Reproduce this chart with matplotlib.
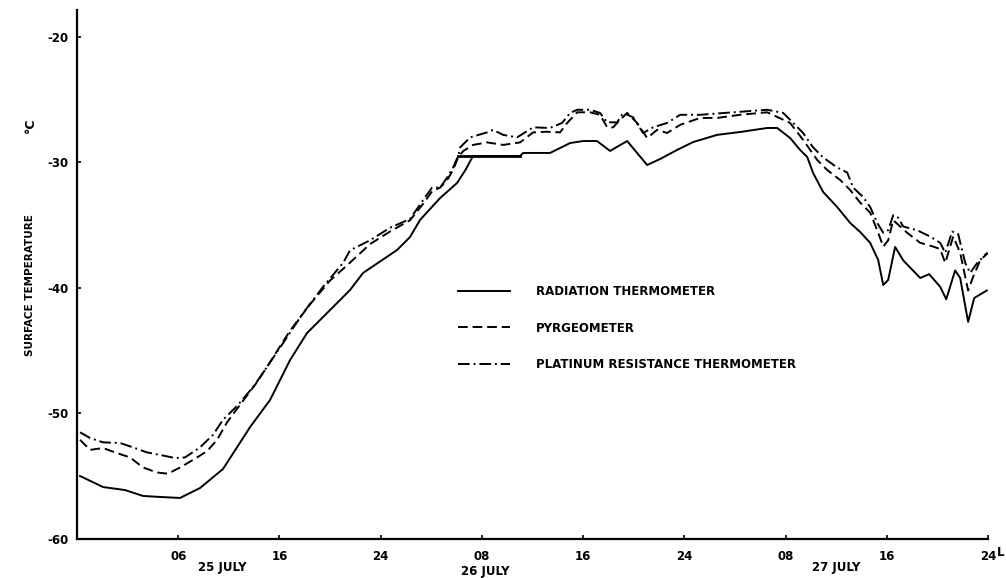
import matplotlib
matplotlib.use("Agg")
import matplotlib.pyplot as plt

plt.rcParams['font.family'] = ['DejaVu Sans']
plt.rcParams['font.weight'] = 'bold'

# hours from 00 on 25 July, surface temperature in deg C
rad_h = [0.24, 2.06, 3.79, 5.22, 6.56, 8.14, 9.72, 11.54, 13.68, 15.26, 16.84, 18.18,
         19.45, 21.58, 22.61, 25.30, 26.32, 27.11, 28.70, 30.04, 30.70, 31.30, 35.02,
         35.26, 37.39, 38.97, 40.0, 41.1, 42.13, 43.48, 45.06, 46.09, 47.43, 48.70,
         50.59, 52.41, 54.55, 55.34, 56.36, 57.15, 57.71, 58.18, 58.97, 60.08, 61.11,
         61.90, 62.69, 63.32, 63.72, 64.11, 64.66, 65.30, 66.64, 67.35, 68.22, 68.70,
         69.40, 69.80, 70.43, 70.91, 71.90]
rad_t = [-54.98, -55.86, -56.10, -56.57, -56.65, -56.73, -55.94, -54.42, -51.08, -48.92,
         -45.74, -43.59, -42.31, -40.16, -38.80, -36.97, -35.94, -34.58, -32.83, -31.63,
         -30.60, -29.48, -29.48, -29.24, -29.24, -28.45, -28.29, -28.29, -29.08, -28.29,
         -30.20, -29.72, -29.00, -28.37, -27.80, -27.57, -27.25, -27.25, -28.05, -29.00,
         -29.56, -30.84, -32.35, -33.55, -34.82, -35.54, -36.41, -37.77, -39.76, -39.36,
         -36.73, -37.80, -39.20, -38.90, -39.90, -40.90, -38.60, -39.20, -42.70, -40.80,
         -40.20]

# flat piece drawn on the radiation trace near 08, 26 July
flat_h = [30.1, 35.0]
flat_t = [-29.45, -29.45]

pyr_h = [0.24, 1.03, 2.06, 3.0, 4.19, 5.22, 6.32, 7.19, 8.14, 9.17, 10.28, 11.07, 11.86,
         12.89, 14.23, 15.26, 16.84, 18.42, 20.0, 21.34, 23.16, 24.74, 26.32, 27.35,
         28.06, 28.70, 29.25, 29.72, 30.12, 30.51, 31.30, 32.41, 33.68, 35.02, 36.05,
         37.15, 38.18, 38.74, 39.53, 40.55, 41.34, 41.90, 42.37, 42.92, 43.48, 44.27,
         45.06, 45.85, 46.64, 47.67, 49.25, 50.59, 52.41, 54.55, 56.36, 57.39, 58.50,
         59.29, 60.32, 61.11, 61.90, 62.69, 63.32, 63.72, 64.11, 64.51, 65.06, 65.61,
         66.64, 67.67, 68.22, 68.62, 69.25, 69.80, 70.43, 70.83, 71.38, 72.0]
pyr_t = [-52.1, -52.9, -52.75, -53.1, -53.5, -54.3, -54.7, -54.8, -54.3, -53.7, -53.0,
         -52.1, -50.7, -49.3, -47.5, -45.9, -43.4, -41.3, -39.4, -38.2, -36.5, -35.5,
         -34.6, -33.3, -32.3, -32.0, -31.4, -30.6, -29.6, -29.1, -28.6, -28.4, -28.6,
         -28.4, -27.6, -27.55, -27.6, -26.85, -26.0, -26.0, -26.2, -27.2, -27.2, -26.6,
         -26.05, -26.85, -28.05, -27.4, -27.65, -27.0, -26.45, -26.45, -26.2, -26.0,
         -26.85, -28.2, -29.8, -30.6, -31.4, -32.2, -33.2, -34.0, -35.6, -36.7, -36.2,
         -34.6, -35.1, -35.6, -36.4, -36.7, -36.9, -38.0, -35.9, -37.2, -40.2, -39.1,
         -37.8, -37.2]

plat_h = [0.24, 1.03, 2.06, 3.40, 4.43, 5.53, 6.56, 7.75, 8.54, 9.72, 10.75, 11.54,
          12.65, 13.91, 14.47, 16.28, 17.87, 19.45, 21.03, 21.58, 23.16, 24.74, 26.32,
          27.35, 28.06, 28.70, 29.25, 29.72, 30.12, 30.28, 31.07, 32.41, 32.89, 33.68,
          34.78, 36.05, 37.39, 38.34, 38.97, 39.53, 40.55, 41.34, 41.90, 42.69, 43.16,
          43.95, 44.74, 45.53, 46.64, 47.67, 49.25, 51.86, 54.55, 55.81, 56.36, 57.39,
          58.18, 58.97, 60.08, 60.87, 61.34, 62.13, 62.69, 63.24, 63.72, 64.11, 64.51,
          64.90, 65.30, 66.40, 67.43, 68.22, 68.62, 69.17, 69.64, 70.20, 70.59, 71.15,
          71.94]
plat_t = [-51.5, -51.95, -52.3, -52.35, -52.7, -53.1, -53.3, -53.55, -53.5, -52.7, -51.7,
          -50.5, -49.4, -47.9, -47.1, -44.4, -42.0, -39.9, -38.0, -37.0, -36.2, -35.2,
          -34.5, -33.0, -32.0, -32.0, -31.2, -30.4, -29.5, -28.8, -28.0, -27.6, -27.4,
          -27.8, -28.0, -27.2, -27.25, -26.85, -26.05, -25.8, -25.8, -26.05, -26.8,
          -26.8, -26.05, -26.4, -27.65, -27.2, -26.85, -26.2, -26.2, -26.0, -25.8, -26.05,
          -26.6, -27.65, -28.8, -29.6, -30.4, -30.8, -32.0, -32.75, -33.55, -34.8, -35.6,
          -35.4, -34.2, -34.4, -35.1, -35.4, -35.9, -36.4, -37.2, -35.5, -35.7, -38.0,
          -38.8, -38.0, -37.2]

tick_h = [8, 16, 24, 32, 40, 48, 56, 64, 72]
tick_lbl = ['06', '16', '24', '08', '16', '24', '08', '16', '24']
yticks = [-60, -50, -40, -30, -20]
days = ['25 JULY', '26 JULY', '27 JULY']

fs = 8.5
fig = plt.figure(figsize=(10.06, 5.78), dpi=100)
ax = fig.add_axes([77/1006, 1 - 539/578, 911/1006, 529/578])

lw = 1.4
ax.plot(rad_h, rad_t, color='black', lw=lw, label='RADIATION THERMOMETER')
ax.plot(flat_h, flat_t, color='black', lw=2.0)
ax.plot(pyr_h, pyr_t, color='black', lw=lw, dashes=(5, 2.5), label='PYRGEOMETER')
ax.plot(plat_h, plat_t, color='black', lw=lw, dashes=(6, 2, 1, 2),
        label='PLATINUM RESISTANCE THERMOMETER')

ax.set_xlim(0, 72)
ax.set_ylim(-60, -17.85)
ax.spines['top'].set_visible(False)
ax.spines['right'].set_visible(False)
ax.spines['left'].set_linewidth(1.6)
ax.spines['bottom'].set_linewidth(1.6)

ax.set_xticks(tick_h)
ax.set_xticklabels(tick_lbl)
ax.set_yticks(yticks)
ax.set_yticklabels([str(v) for v in yticks])
ax.tick_params(direction='in', length=3, width=1.2, labelsize=fs, pad=8)
ax.tick_params(axis='y', pad=6)

fig.text(222/1006, 1 - 568/578, days[0], ha='center', va='center', fontsize=fs)
fig.text(485/1006, 1 - 571/578, days[1], ha='center', va='center', fontsize=fs)
fig.text(836/1006, 1 - 567/578, days[2], ha='center', va='center', fontsize=fs)
fig.text(997/1006, 1 - 553/578, 'L', ha='left', va='center', fontsize=fs)

fig.text(30/1006, 1 - 285/578, 'SURFACE TEMPERATURE', rotation=90,
         ha='center', va='center', fontsize=7.5)
fig.text(30/1006, 1 - 125/578, '\u00b0C', rotation=90,
         ha='center', va='center', fontsize=9)

ax.legend(loc='upper left', bbox_to_anchor=(458/1006, 1 - 285/578),
          bbox_transform=fig.transFigure, frameon=False, fontsize=fs,
          handlelength=4.4, handletextpad=2.2, labelspacing=2.0,
          borderpad=0, borderaxespad=0)

fig.savefig('out.png', dpi=100)
